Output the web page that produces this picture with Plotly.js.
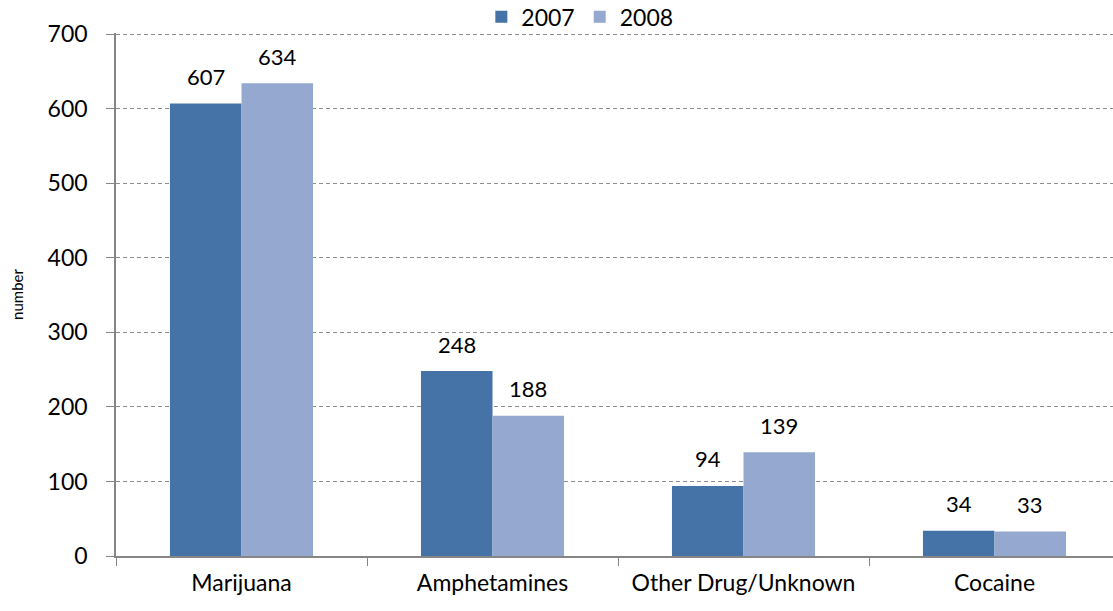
<!DOCTYPE html>
<html><head><meta charset="utf-8">
<script src="https://cdn.plot.ly/plotly-3.0.1.min.js"></script>
<style>html,body{margin:0;padding:0;overflow:hidden;background:#fff}</style>
</head><body><div id="chart"></div>
<script>
var categories = ["Marijuana", "Amphetamines", "Other Drug/Unknown", "Cocaine"];
var values2007 = [607, 248, 94, 34];
var values2008 = [634, 188, 139, 33];
var yTicks = [0, 100, 200, 300, 400, 500, 600, 700];

var font = "Lato, 'Open Sans', sans-serif";
var bargap = 0.43;
var half = (1 - bargap) / 4;

var traces = [
  {type: "bar", name: "2007", x: categories, y: values2007, marker: {color: "#4572A7"}},
  {type: "bar", name: "2008", x: categories, y: values2008, marker: {color: "#95A9D0"}}
];

var annotations = [];
categories.forEach(function (c, i) {
  annotations.push({xref: "x", yref: "y", x: i - half, y: values2007[i], text: String(values2007[i]),
    showarrow: false, yanchor: "middle", yshift: 27, font: {size: 22, family: font, color: "#000"}});
  annotations.push({xref: "x", yref: "y", x: i + half, y: values2008[i], text: String(values2008[i]),
    showarrow: false, yanchor: "middle", yshift: 27, font: {size: 22, family: font, color: "#000"}});
});

var layout = {
  width: 1120, height: 611,
  margin: {l: 116, r: 0, t: 33, b: 55, autoexpand: false},
  font: {family: font, color: "#000"},
  barmode: "group", bargap: bargap, bargroupgap: 0,
  showlegend: true,
  legend: {orientation: "h", x: 0.462, xanchor: "center", y: 1.031, yanchor: "middle",
           bgcolor: "rgba(0,0,0,0)",
           font: {size: 23, family: font}, itemwidth: 30, traceorder: "normal"},
  annotations: annotations,
  xaxis: {showline: true, linecolor: "#868686", linewidth: 1.5, ticks: "outside",
          tickson: "boundaries", ticklen: 8, tickcolor: "#868686",
          tickfont: {size: 23, family: font}, showgrid: false, ticklabelstandoff: 6},
  yaxis: {range: [0, 701.5], tickvals: yTicks, showline: true, linecolor: "#868686", linewidth: 1.5,
          ticks: "outside", ticklen: 8, tickcolor: "#868686",
          tickfont: {size: 23, family: font}, ticklabelstandoff: 14,
          gridcolor: "#8c8c8c", griddash: "4px,3px", gridwidth: 1.2, zeroline: false,
          title: {text: "number", font: {size: 15, family: font}, standoff: 20}}
};
Plotly.newPlot("chart", traces, layout, {displayModeBar: false});
</script></body></html>
